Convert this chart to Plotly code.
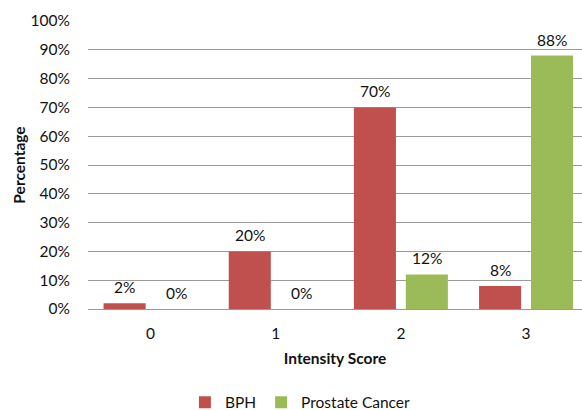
import plotly.graph_objects as go

categories = ["0", "1", "2", "3"]
bph = [2, 20, 70, 8]
cancer = [0, 0, 12, 88]
series_names = ["BPH", "Prostate Cancer"]
colors = ["#C0504D", "#9BBB59"]
y_ticks = list(range(0, 101, 10))
y_ticklabels = [f"{v}%" for v in y_ticks]

FONT = "Lato, 'Open Sans', sans-serif"
TXT = "#111111"
FS = 15.5

fig = go.Figure()
for name, vals, col in zip(series_names, [bph, cancer], colors):
    fig.add_trace(go.Bar(x=categories, y=vals, name=name, marker=dict(color=col, line=dict(width=0))))

# data labels
for vals, shift in [(bph, -26), (cancer, 26)]:
    for c, v in zip(categories, vals):
        fig.add_annotation(x=c, y=v, text=f"{v}%", showarrow=False, xshift=shift, yshift=16,
                           yanchor="middle", font=dict(family=FONT, size=FS, color=TXT))

fig.update_layout(
    width=582, height=410,
    margin=dict(l=88, r=0, t=21, b=101, autoexpand=False),
    paper_bgcolor="white", plot_bgcolor="white",
    barmode="group", bargap=0.17, bargroupgap=0.19,
    font=dict(family=FONT, size=FS, color=TXT),
    showlegend=True,
    legend=dict(orientation="h", x=0.43, xanchor="center", y=-0.325, yanchor="middle",
                font=dict(family=FONT, size=FS, color=TXT), itemwidth=30,
                traceorder="normal"),
    xaxis=dict(type="category", range=[-0.5, 3.447], showgrid=False, automargin=False,
               showline=True, linecolor="#9a9a9a", linewidth=1.3,
               ticks="outside", ticklen=10, tickcolor="rgba(0,0,0,0)",
               tickfont=dict(family=FONT, size=FS, color=TXT),
               title=dict(text="<b>Intensity Score</b>", standoff=12,
                          font=dict(family=FONT, size=FS, color=TXT))),
    yaxis=dict(range=[0, 100], tickvals=y_ticks, ticktext=y_ticklabels, automargin=False,
               showgrid=True, gridcolor="#9a9a9a", gridwidth=1.3,
               zeroline=True, zerolinecolor="#9a9a9a", zerolinewidth=1.3,
               showline=False, ticks="outside", ticklen=14, tickcolor="rgba(0,0,0,0)",
               tickfont=dict(family=FONT, size=FS, color=TXT),
               title=dict(text="<b>Percentage</b>", standoff=1,
                          font=dict(family=FONT, size=FS, color=TXT))),
)

fig.write_html("out.html", config={"displayModeBar": False},
               post_script="document.body.style.margin='0px';")
